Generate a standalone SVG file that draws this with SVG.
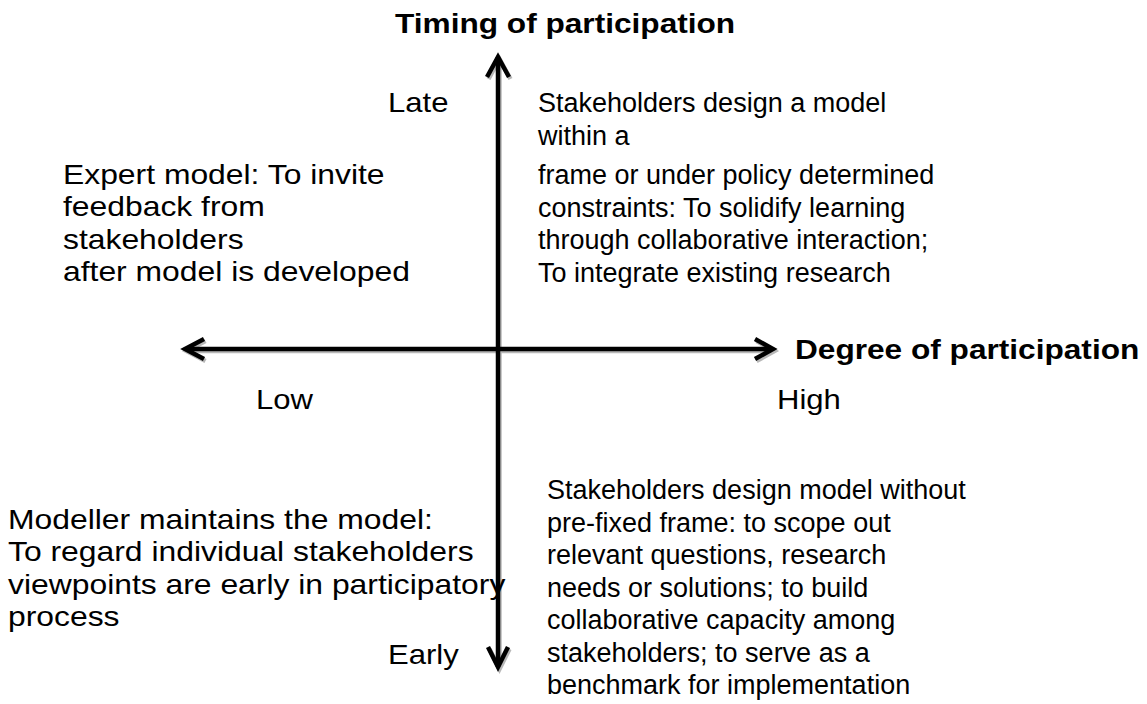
<svg xmlns="http://www.w3.org/2000/svg" width="1147" height="704" viewBox="0 0 1147 704">
<style>
.t{font-family:"Liberation Sans",Arial,sans-serif;font-size:27px;fill:#000}
.b{font-family:"Liberation Sans",Arial,sans-serif;font-size:27.5px;font-weight:bold;fill:#000}
.ax{fill:none;stroke:#000;stroke-width:4.5;stroke-linejoin:miter;stroke-linecap:butt}
.sh{fill:none;stroke:#b8b8b8;stroke-width:4.5;stroke-linejoin:miter}
</style>
<rect width="1147" height="704" fill="#fff"/>
<g id="connectors">
  <g transform="translate(1.5,2)">
    <line class="sh" x1="498" y1="57" x2="498" y2="667"/>
    <polyline class="sh" points="487,77 498,57 509,77"/>
    <polyline class="sh" points="488,647 498,667 508,647"/>
    <line class="sh" x1="186" y1="349" x2="772" y2="349"/>
    <polyline class="sh" points="204,339 185,349 204,359"/>
    <polyline class="sh" points="755,339 773,349 755,359"/>
  </g>
  <line class="ax" x1="498" y1="57" x2="498" y2="667"/>
  <polyline class="ax" points="487,77 498,57 509,77"/>
  <polyline class="ax" points="488,647 498,667 508,647"/>
  <line class="ax" x1="186" y1="349" x2="772" y2="349"/>
  <polyline class="ax" points="204,339 185,349 204,359"/>
  <polyline class="ax" points="755,339 773,349 755,359"/>
</g>
<g transform="scale(1.15,1)">
  <g id="title-timing"><text class="b" x="343.5" y="33">Timing of participation</text></g>
  <g id="title-degree"><text class="b" x="691.3" y="359">Degree of participation</text></g>
  <g id="label-late"><text class="t" x="337.4" y="112">Late</text></g>
  <g id="label-early"><text class="t" x="337.4" y="664">Early</text></g>
  <g id="label-low"><text class="t" x="222.6" y="409">Low</text></g>
  <g id="label-high"><text class="t" x="675.7" y="409">High</text></g>
</g>
<g transform="scale(1.18,1)">
  <g id="quad-top-left">
    <text class="t" x="53.4" y="184">Expert model: To invite</text>
    <text class="t" x="53.4" y="216.5">feedback from</text>
    <text class="t" x="53.4" y="249">stakeholders</text>
    <text class="t" x="53.4" y="281.5">after model is developed</text>
  </g>
  <g id="quad-bottom-left">
    <text class="t" x="6.8" y="529">Modeller maintains the model:</text>
    <text class="t" x="6.8" y="561.5">To regard individual stakeholders</text>
    <text class="t" x="6.8" y="594">viewpoints are early in participatory</text>
    <text class="t" x="6.8" y="626.5">process</text>
  </g>
</g>
<g id="quad-top-right">
  <text class="t" x="538" y="112">Stakeholders design a model</text>
  <text class="t" x="538" y="144.5">within a</text>
  <text class="t" x="538" y="184">frame or under policy determined</text>
  <text class="t" x="538" y="216.5">constraints: To solidify learning</text>
  <text class="t" x="538" y="249">through collaborative interaction;</text>
  <text class="t" x="538" y="281.5">To integrate existing research</text>
</g>
<g id="quad-bottom-right">
  <text class="t" x="547" y="499">Stakeholders design model without</text>
  <text class="t" x="547" y="531.5">pre-fixed frame: to scope out</text>
  <text class="t" x="547" y="564">relevant questions, research</text>
  <text class="t" x="547" y="596.5">needs or solutions; to build</text>
  <text class="t" x="547" y="629">collaborative capacity among</text>
  <text class="t" x="547" y="661.5">stakeholders; to serve as a</text>
  <text class="t" x="547" y="694">benchmark for implementation</text>
</g>
</svg>
